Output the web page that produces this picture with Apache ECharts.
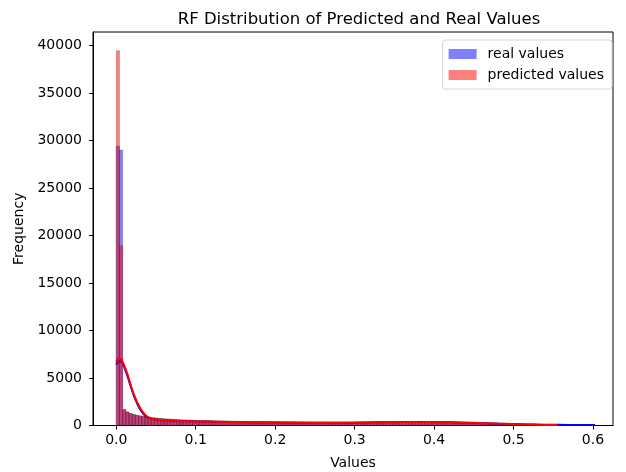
<!DOCTYPE html>
<html>
<head>
<meta charset="utf-8">
<script src="https://cdn.jsdelivr.net/npm/echarts@6/dist/echarts.min.js"></script>
<style>
  html, body { margin: 0; padding: 0; background: #fff; }
  #chart { width: 626px; height: 472px; }
</style>
</head>
<body>
<div id="chart"></div>
<script>
// histogram bins: width of one bin on the value axis
const binWidth = 0.004;

// real values, counts per bin starting at 0
const realCounts = [
  29400, 29000, 1650, 1420, 1260, 1150, 1070, 1010, 950, 900,
  860, 820, 780, 745, 715, 690, 665, 645, 625, 605,
  590, 575, 560, 548, 535, 525, 515, 505, 497, 490,
  482, 474, 468, 460, 452, 447, 440, 433, 428, 420,
  414, 408, 402, 396, 390, 384, 378, 372, 366, 360,
  352, 346, 340, 335, 330, 326, 322, 318, 314, 310,
  306, 303, 300, 298, 296, 294, 293, 292, 291, 292,
  293, 295, 297, 300, 303, 306, 310, 314, 318, 323,
  328, 333, 338, 343, 348, 352, 356, 360, 363, 366,
  368, 370, 371, 372, 372, 371, 369, 366, 362, 357,
  351, 344, 336, 327, 317, 306, 295, 283, 271, 259,
  247, 235, 223, 211, 200, 189, 178, 168, 158, 149,
  140, 132, 124, 117, 110, 104, 98, 92, 87, 82,
  78, 74, 70, 66, 63, 60, 57, 54, 52, 50,
  48, 46, 44, 42, 40, 38, 36, 34, 32, 30, 28
];

// predicted values, counts per bin starting at 0
const predCounts = [
  39440, 18900, 1700, 1450, 1280, 1160, 1080, 1015, 955, 905,
  865, 825, 785, 750, 720, 695, 670, 650, 630, 610,
  595, 580, 565, 552, 540, 528, 518, 508, 500, 492,
  485, 477, 470, 463, 456, 450, 443, 437, 431, 424,
  418, 412, 406, 400, 394, 388, 382, 376, 370, 364,
  357, 351, 345, 340, 335, 331, 327, 323, 319, 315,
  312, 309, 306, 304, 302, 300, 299, 298, 298, 299,
  300, 302, 304, 307, 310, 314, 318, 322, 327, 332,
  337, 342, 348, 353, 358, 363, 367, 371, 375, 378,
  381, 383, 385, 386, 386, 385, 383, 380, 376, 371,
  365, 357, 348, 338, 327, 315, 302, 288, 274, 260,
  246, 232, 218, 205, 192, 180, 168, 157, 146, 136,
  126, 117, 108, 100, 92, 85, 78, 72, 66, 60,
  55, 50, 46, 42, 38, 35, 32, 29, 26
];

// kde curves (x, count scale)
const realKdeX = [0, 0.004, 0.008, 0.012, 0.016, 0.02, 0.024, 0.028, 0.032, 0.036, 0.04, 0.046, 0.053, 0.065, 0.08, 0.1, 0.13, 0.16, 0.2, 0.25, 0.3, 0.33, 0.36, 0.39, 0.42, 0.45, 0.48, 0.51, 0.54, 0.57, 0.6025];
const realKdeY = [6400, 6780, 6500, 5700, 4700, 3650, 2750, 2000, 1450, 1050, 820, 660, 570, 510, 460, 420, 380, 340, 310, 290, 300, 330, 360, 365, 330, 260, 190, 130, 90, 60, 40];
const predKdeX = [0, 0.003, 0.006, 0.01, 0.014, 0.018, 0.022, 0.026, 0.03, 0.034, 0.038, 0.042, 0.048, 0.055, 0.065, 0.08, 0.1, 0.13, 0.16, 0.2, 0.25, 0.3, 0.33, 0.36, 0.39, 0.42, 0.45, 0.48, 0.51, 0.53, 0.555];
const predKdeY = [6700, 7050, 6950, 6300, 5400, 4300, 3300, 2500, 1850, 1350, 1000, 800, 650, 570, 520, 470, 430, 390, 350, 320, 300, 310, 340, 370, 380, 350, 280, 200, 130, 80, 40];

const xTicks = [0, 0.1, 0.2, 0.3, 0.4, 0.5, 0.6];

const FONT = 'DejaVu Sans';

function toBins(counts) {
  return counts.map((c, i) => [i * binWidth, (i + 1) * binWidth, c]);
}

function toPairs(xs, ys) {
  return xs.map((x, i) => [x, ys[i]]);
}

function barRenderer(fill) {
  return function(params, api) {
    const p0 = api.coord([api.value(0), api.value(2)]);
    const p1 = api.coord([api.value(1), 0]);
    return {
      type: 'rect',
      shape: { x: p0[0], y: p0[1], width: p1[0] - p0[0], height: p1[1] - p0[1] },
      style: { fill: fill, stroke: 'rgba(40,40,40,0.5)', lineWidth: 0.5 }
    };
  };
}

const chart = echarts.init(document.getElementById('chart'));

chart.setOption({
  animation: false,
  backgroundColor: '#fff',
  textStyle: { fontFamily: FONT },
  title: {
    text: 'RF Distribution of Predicted and Real Values',
    left: 354, top: 6, textAlign: 'center',
    textStyle: { fontFamily: FONT, fontSize: 16.5, fontWeight: 'normal', color: '#000' }
  },
  legend: {
    right: 14, top: 40,
    orient: 'vertical',
    align: 'left',
    itemWidth: 28, itemHeight: 10, itemGap: 7,
    padding: [7, 8, 7, 6],
    backgroundColor: '#fff',
    borderColor: '#d6d6d6', borderWidth: 1, borderRadius: 3,
    textStyle: { fontFamily: FONT, fontSize: 14, color: '#000', padding: [0, 0, 0, 6] },
    data: [
      { name: 'real values', icon: 'rect', itemStyle: { color: 'rgba(0,0,255,0.5)' } },
      { name: 'predicted values', icon: 'rect', itemStyle: { color: 'rgba(255,0,0,0.5)' } }
    ]
  },
  grid: {
    left: 93, right: 13, top: 32, bottom: 46.5,
    containLabel: false, outerBoundsMode: 'none',
    show: true, borderColor: '#000', borderWidth: 1
  },
  xAxis: {
    type: 'value',
    min: -0.0293, max: 0.6252,
    name: 'Values', nameLocation: 'middle', nameGap: 31,
    nameTextStyle: { fontFamily: FONT, fontSize: 14, color: '#000' },
    axisLine: { show: true, onZero: false, lineStyle: { color: '#000' } },
    axisTick: { show: true, length: 4, customValues: xTicks, lineStyle: { color: '#000' } },
    axisLabel: {
      customValues: xTicks, margin: 8,
      fontFamily: FONT, fontSize: 14, color: '#000',
      formatter: v => v.toFixed(1)
    },
    splitLine: { show: false }
  },
  yAxis: {
    type: 'value',
    min: 0, max: 41412, interval: 5000,
    name: 'Frequency', nameLocation: 'middle', nameGap: 60,
    nameTextStyle: { fontFamily: FONT, fontSize: 14, color: '#000' },
    axisLine: { show: true, onZero: false, lineStyle: { color: '#000' } },
    axisTick: { show: true, length: 4, lineStyle: { color: '#000' } },
    axisLabel: {
      margin: 11, fontFamily: FONT, fontSize: 14, color: '#000', showMaxLabel: false,
      formatter: v => String(v)
    },
    splitLine: { show: false }
  },
  series: [
    {
      name: 'real values', type: 'custom', z: 1, clip: true,
      color: 'rgba(0,0,255,0.5)',
      renderItem: barRenderer('rgba(0,0,255,0.5)'),
      encode: { x: [0, 1], y: 2 },
      data: toBins(realCounts)
    },
    {
      name: 'real kde', type: 'line', z: 2, smooth: 0.4, showSymbol: false,
      lineStyle: { color: '#0000ff', width: 2 },
      data: toPairs(realKdeX, realKdeY)
    },
    {
      name: 'predicted values', type: 'custom', z: 3, clip: true,
      color: 'rgba(255,0,0,0.5)',
      renderItem: barRenderer('rgba(255,0,0,0.5)'),
      encode: { x: [0, 1], y: 2 },
      data: toBins(predCounts)
    },
    {
      name: 'pred kde', type: 'line', z: 4, smooth: 0.4, showSymbol: false,
      lineStyle: { color: '#ff0000', width: 2 },
      data: toPairs(predKdeX, predKdeY)
    }
  ]
});
</script>
</body>
</html>
